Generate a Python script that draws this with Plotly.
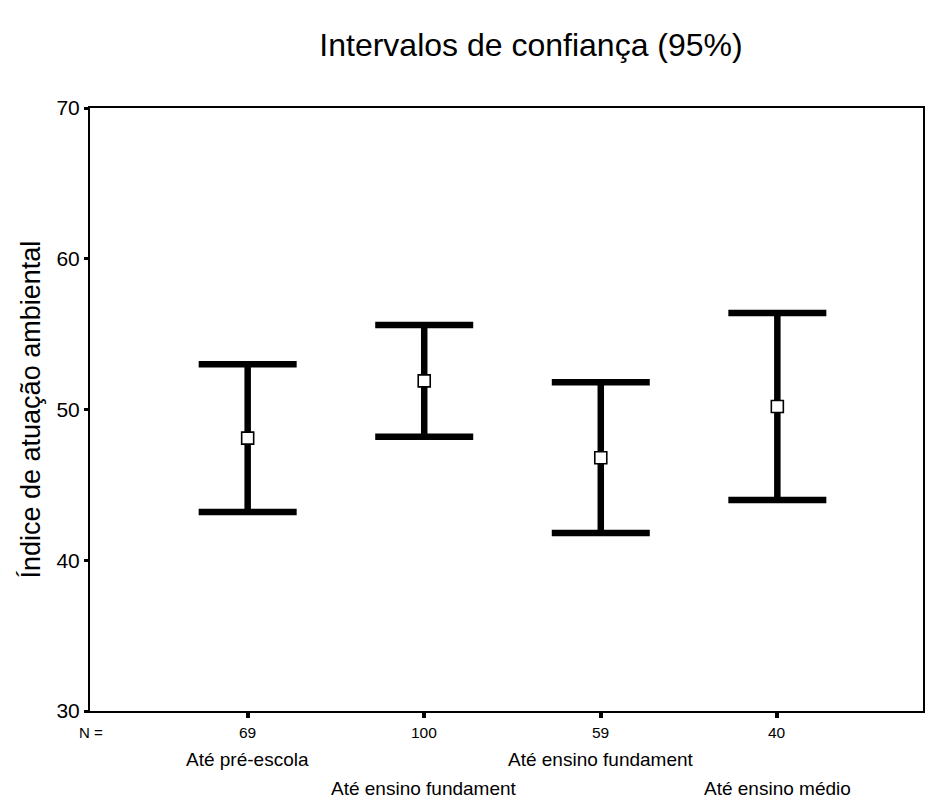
import plotly.graph_objects as go

categories = ["Até pré-escola", "Até ensino fundament", "Até ensino fundament", "Até ensino médio"]
n_values = [69, 100, 59, 40]
means = [48.1, 51.9, 46.8, 50.2]
upper = [53.0, 55.6, 51.8, 56.4]
lower = [43.2, 48.2, 41.8, 44.0]
y_ticks = [30, 40, 50, 60, 70]

xs = list(range(len(categories)))
err_plus = [u - m for u, m in zip(upper, means)]
err_minus = [m - l for m, l in zip(means, lower)]

fig = go.Figure()
fig.add_trace(go.Scatter(
    x=xs, y=means, mode="markers",
    marker=dict(symbol="square", size=12, color="white",
                line=dict(color="black", width=1.6)),
    error_y=dict(type="data", symmetric=False, array=err_plus, arrayminus=err_minus,
                 color="black", thickness=6.5, width=49),
    showlegend=False,
))

font_main = "Liberation Sans, Arial, sans-serif"
annotations = []
# N row
annotations.append(dict(x=0.001, y=-0.035, xref="paper", yref="paper", text="N =",
                        showarrow=False, xanchor="center", yanchor="middle",
                        font=dict(size=15, color="black", family=font_main)))
for i, n in enumerate(n_values):
    annotations.append(dict(x=xs[i], y=-0.035, xref="x", yref="paper", text=str(n),
                            showarrow=False, xanchor="center", yanchor="middle",
                            font=dict(size=15.5, color="black", family=font_main)))
# staggered category labels
for i, c in enumerate(categories):
    yy = -0.081 if i % 2 == 0 else -0.128
    annotations.append(dict(x=xs[i], y=yy, xref="x", yref="paper", text=c,
                            showarrow=False, xanchor="center", yanchor="middle",
                            font=dict(size=19, color="black", family=font_main)))
# y-axis title
annotations.append(dict(x=-0.072, y=0.5, xref="paper", yref="paper",
                        text="Índice de atuação ambiental", textangle=-90,
                        showarrow=False, xanchor="center", yanchor="middle",
                        font=dict(size=27, color="black", family=font_main)))

fig.update_layout(
    width=926, height=798,
    margin=dict(l=90, r=1, t=108, b=87),
    paper_bgcolor="white", plot_bgcolor="white",
    title=dict(text="Intervalos de confiança (95%)", xref="container", yref="container",
               x=531 / 926, y=1 - 45 / 798, xanchor="center", yanchor="middle",
               font=dict(size=32, color="black", family=font_main)),
    annotations=annotations,
    xaxis=dict(range=[-0.893, 3.825], tickvals=xs, ticktext=["" for _ in xs],
               ticks="outside", ticklen=5, tickwidth=4, tickcolor="black",
               showline=True, linecolor="black", linewidth=2, mirror=True,
               showgrid=False, zeroline=False, fixedrange=True),
    yaxis=dict(range=[30, 70], tickvals=y_ticks, ticks="outside", ticklen=4,
               tickwidth=3, tickcolor="black",
               showline=True, linecolor="black", linewidth=2, mirror=True,
               showgrid=False, zeroline=False,
               tickfont=dict(size=21, color="black", family=font_main)),
)

fig.write_html("out.html")
